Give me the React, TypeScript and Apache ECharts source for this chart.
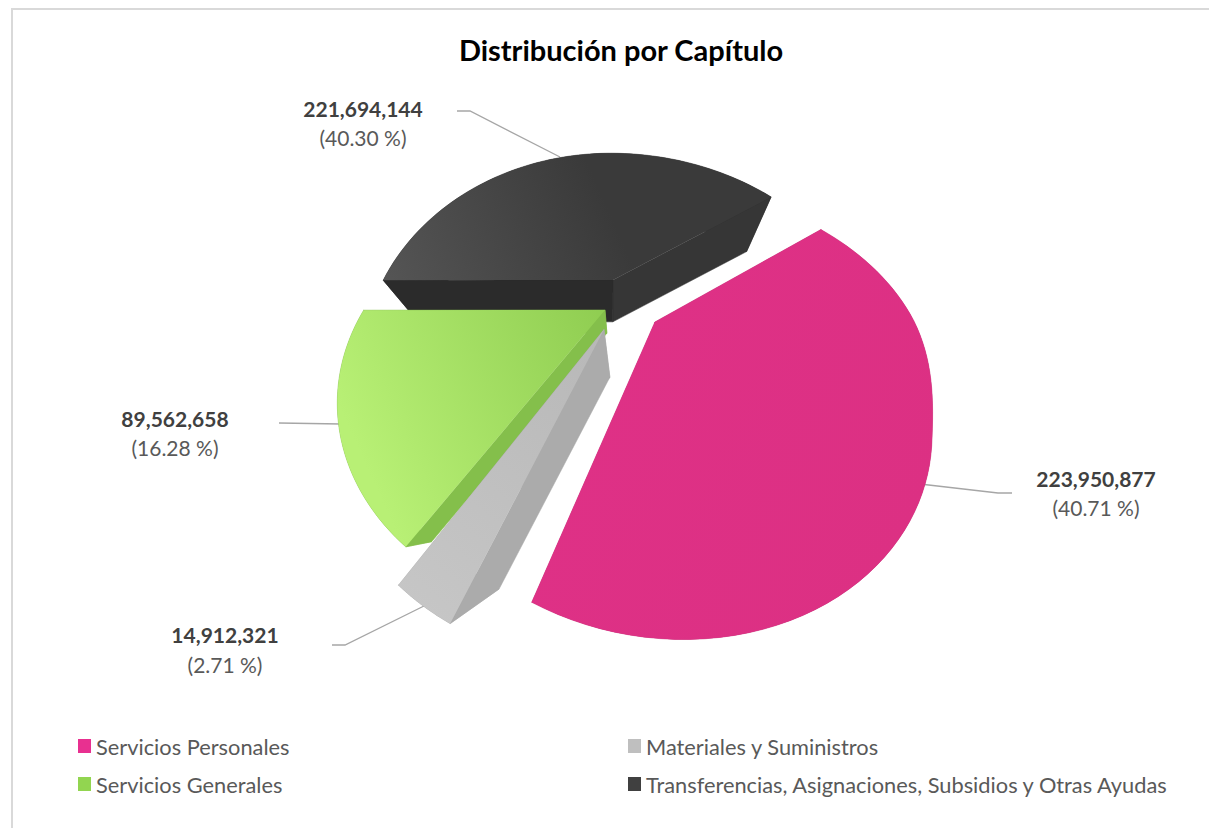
import React, { useEffect, useRef } from "react";
import * as echarts from "echarts";

const TITLE = "Distribución por Capítulo";
const categories = [
  "Servicios Personales",
  "Materiales y Suministros",
  "Servicios Generales",
  "Transferencias, Asignaciones, Subsidios y Otras Ayudas",
];
const values = [223950877, 14912321, 89562658, 221694144];
const legendColors = ["#E83090", "#BFBFBF", "#92D550", "#404040"];

// 3D projection of the pie plane (style / layout only)
const START_DEG = 55;
const CENTER = [605, 320];
const FX = 240;
const FY = 178;
const KP = -0.432;
const slicePose = [
  { ex: 0.207, ey: 0.011, r: 1, sy: 1, up: 1.12, shear: 0.03, sxr: 1, vx: 655, vy: 500, depth: 0.9, z: 4 },
  { ex: -0.004, ey: 0.052, r: 1, sy: 1, up: 1, shear: 0, sxr: 1, vx: 625, vy: 500, depth: 0.72, z: 3 },
  { ex: 0, ey: -0.058, r: 1.03, sy: 1, up: 1, shear: 0, sxr: 1, vx: 621, vy: 504, depth: 0.88, z: 2 },
  { ex: 0.037, ey: -0.249, r: 1.06, sy: 1.165, up: 1, shear: 0, sxr: 1.05, vx: 612, vy: 552, depth: 0.846, z: 1 },
];
const sliceFill = [
  { from: "#DF3187", to: "#DC3083", side: "#C42872", a: [530, 300], b: [930, 500] },
  { from: "#C6C6C6", to: "#B8B8B8", side: "#ABABAB", a: [400, 600], b: [610, 340] },
  { from: "#B8F075", to: "#8ECC50", side: "#84BF4B", a: [345, 420], b: [610, 300] },
  { from: "#555555", to: "#3A3A3A", side: "#2B2B2B", side2: "#363636", a: [385, 285], b: [600, 190] },
];
const labelPos = [
  { x: 1096, y: 478, dy: 29, line: [[920, 484], [998, 493], [1012, 493]] },
  { x: 225, y: 634, dy: 30, line: [[428, 604], [345, 645], [332, 645]] },
  { x: 175, y: 418, dy: 29, line: [[341, 424], [279, 423]] },
  { x: 363, y: 108, dy: 29, line: [[560, 157], [470, 111], [457, 111]] },
];

const total = values.reduce((s, v) => s + v, 0);
const FONT = "Lato";

function project(i: number, x: number, y: number) {
  const p = slicePose[i];
  const X = x * p.r + p.ex;
  const Y = y * p.r + p.ey;
  const d = 1 + KP * Y;
  const apexX = CENTER[0] + (FX * p.ex) / (1 + KP * p.ey);
  const apexY = CENTER[1] + (FY * p.ey) / (1 + KP * p.ey);
  let dx = (FX * X) / d + CENTER[0] - apexX;
  let dy = ((FY * Y) / d + CENTER[1] - apexY) * p.sy;
  if (dx > 0) dx *= p.sxr;
  const t = Math.max(0, Math.min(1, (120 - dy) / 203));
  const s = 1 + (p.up - 1) * t * t * (3 - 2 * t);
  dx *= s;
  dy *= s;
  if (dy > 0) dx -= p.shear * dy;
  return [apexX + dx, apexY + dy];
}

function toBottom(i: number, pt: number[]) {
  const p = slicePose[i];
  return [p.vx + (pt[0] - p.vx) * p.depth, p.vy + (pt[1] - p.vy) * p.depth];
}

function renderSlice(i: number) {
  return () => {
    const before = values.slice(0, i).reduce((s, v) => s + v, 0);
    const a0 = START_DEG + (before / total) * 360;
    const a1 = a0 + (values[i] / total) * 360;
    const rim: number[][] = [];
    const steps = 72;
    for (let k = 0; k <= steps; k++) {
      const t = ((a0 + ((a1 - a0) * k) / steps) * Math.PI) / 180;
      rim.push(project(i, Math.sin(t), -Math.cos(t)));
    }
    const apex = project(i, 0, 0);
    const bApex = toBottom(i, apex);
    const bRim = rim.map((q) => toBottom(i, q));
    const f = sliceFill[i];
    const l = labelPos[i];
    const pct = ((values[i] / total) * 100).toFixed(2);
    const poly = (points: number[][], fill: any) => ({
      type: "polygon",
      shape: { points },
      style: { fill, stroke: fill === f.side || fill === (f as any).side2 ? fill : undefined, lineWidth: 0.5 },
      silent: true,
    });
    const children: any[] = [
      {
        type: "polyline",
        shape: { points: l.line },
        style: { stroke: "#A6A6A6", lineWidth: 1.3, fill: "none" },
        silent: true,
      },
      poly([...rim, ...[...bRim].reverse()], f.side),
      poly([apex, rim[rim.length - 1], bRim[bRim.length - 1], bApex], (f as any).side2 || f.side),
      poly([apex, rim[0], bRim[0], bApex], f.side),
      poly([apex, ...rim], {
        type: "linear",
        x: f.a[0],
        y: f.a[1],
        x2: f.b[0],
        y2: f.b[1],
        global: true,
        colorStops: [
          { offset: 0, color: f.from },
          { offset: 1, color: f.to },
        ],
      }),
      {
        type: "text",
        silent: true,
        style: {
          x: l.x,
          y: l.y,
          text: values[i].toLocaleString("en-US"),
          font: `bold 21px ${FONT}`,
          fill: "#404040",
          align: "center",
          verticalAlign: "middle",
        },
      },
      {
        type: "text",
        silent: true,
        style: {
          x: l.x,
          y: l.y + l.dy,
          text: `(${pct} %)`,
          font: `21px ${FONT}`,
          fill: "#595959",
          align: "center",
          verticalAlign: "middle",
        },
      },
    ];
    return { type: "group", children };
  };
}

const legendBase = {
  orient: "vertical" as const,
  top: 730,
  itemWidth: 13,
  itemHeight: 14,
  itemGap: 16,
  icon: "rect",
  selectedMode: false,
  textStyle: { color: "#595959", fontSize: 21.8, fontFamily: FONT },
};

export default function App() {
  const ref = useRef<HTMLDivElement>(null);
  useEffect(() => {
    document.body.style.margin = "0";
    const chart = echarts.init(ref.current!, null, { renderer: "svg" });
    chart.setOption({
      animation: false,
      backgroundColor: "#ffffff",
      title: {
        text: TITLE,
        left: 616,
        top: 30,
        textAlign: "center",
        textStyle: { fontFamily: FONT, fontSize: 29, fontWeight: "bold", color: "#000000" },
      },
      legend: [
        { ...legendBase, left: 73, data: [categories[0], categories[2]] },
        { ...legendBase, left: 623, data: [categories[1], categories[3]] },
      ],
      graphic: [
        {
          type: "rect",
          silent: true,
          shape: { x: 12, y: 9, width: 1400, height: 1000 },
          style: { fill: "none", stroke: "#D9D9D9", lineWidth: 2 },
        },
      ],
      series: categories.map((name, i) => ({
        type: "custom",
        name,
        coordinateSystem: "none",
        z: slicePose[i].z,
        silent: true,
        itemStyle: { color: legendColors[i] },
        data: [[values[i]]],
        renderItem: renderSlice(i),
      })),
    });
    return () => chart.dispose();
  }, []);
  return <div ref={ref} style={{ width: 1209, height: 828 }} />;
}
